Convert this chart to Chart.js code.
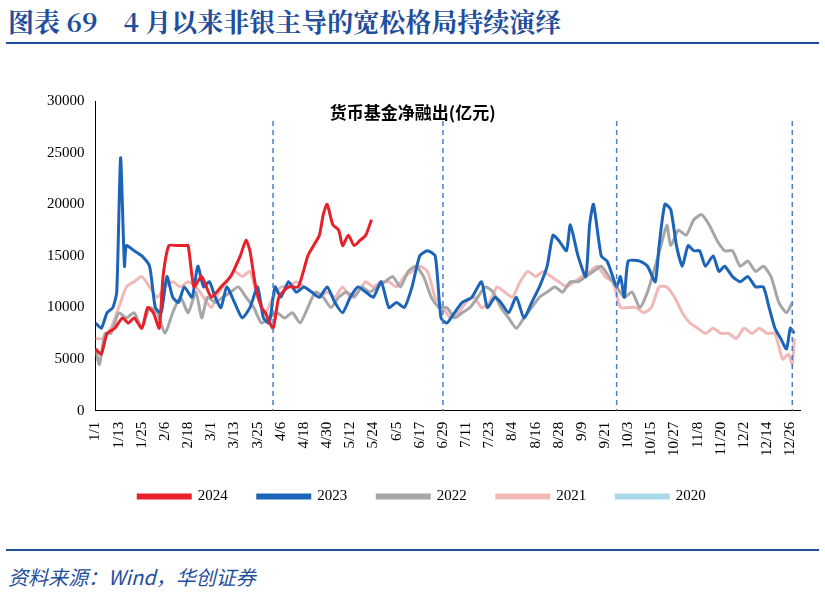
<!DOCTYPE html>
<html><head><meta charset="utf-8">
<script src="https://cdn.jsdelivr.net/npm/chart.js@4"></script>
<style>
body{margin:0;width:825px;height:599px;background:#fff;font-family:"Noto Sans CJK SC",sans-serif;position:relative;overflow:hidden}
#title{position:absolute;left:8px;top:2px;font-size:26px;font-weight:bold;color:#1f4e9c;font-family:"Noto Serif CJK SC","Noto Sans CJK SC",serif}
#line1{position:absolute;left:6px;right:6px;top:42px;border-top:2px solid #1f4e9c}
#line2{position:absolute;left:6px;right:6px;top:549px;border-top:2px solid #1f4e9c}
#src{position:absolute;left:8px;top:562px;font-size:20px;font-style:italic;color:#1f4e9c}
#wrap{position:absolute;left:0;top:84px;width:825px;height:430px}
</style></head><body>
<div id="title">图表 69　4 月以来非银主导的宽松格局持续演绎</div>
<div id="line1"></div>
<div id="wrap"><canvas id="chart"></canvas></div>
<div id="line2"></div>
<div id="src">资料来源：Wind，华创证券</div>
<script>
// x轴刻度（每12天）
const tickLabels = ["1/1","1/13","1/25","2/6","2/18","3/1","3/13","3/25","4/6","4/18","4/30","5/12","5/24","6/5","6/17","6/29","7/11","7/23","8/4","8/16","8/28","9/9","9/21","10/3","10/15","10/27","11/8","11/20","12/2","12/14","12/26"];
// 季末分隔线（日序）
const quarterDays = [92, 180, 270, 361];

const days2024 = [0,3,6,10,14,17,20,24,27,30,33,35,38,42,46,48,51,55,60,65,70,75,78,80,83,86,88,92,95,100,105,110,113,116,118,120,123,126,128,131,134,137,140,143];
const vals2024 = [6000,5500,7500,8000,9000,8500,9000,8000,10000,9500,8000,13000,16000,16000,16000,16000,12000,13000,11000,12000,13000,15000,16500,15500,12000,10000,9500,8000,11000,12000,12000,15000,16000,17000,19000,20000,18000,17500,16000,17000,16000,16500,17000,18500];

const days2023 = [0,3,6,9,11,13,15,16,20,24,28,31,34,37,40,43,46,50,53,56,59,62,65,68,72,76,80,84,87,90,93,96,100,104,108,112,116,120,124,128,132,136,140,144,148,152,156,160,164,168,172,176,179,182,186,190,195,200,203,207,210,214,218,222,226,230,234,237,240,244,246,250,254,256,258,262,265,268,270,272,274,276,282,286,290,292,295,298,301,304,307,310,313,316,320,323,326,330,334,338,342,346,349,352,355,358,360,362];
const vals2023 = [8500,8000,9500,10000,11500,24500,14000,16000,15500,15000,14000,10000,9500,13000,11000,10500,12000,11000,14000,12000,12500,11000,10000,12000,10500,9000,10000,12000,9000,8500,12000,11000,12500,11500,12000,11500,11000,12000,10500,9500,11000,12000,11500,11000,12500,10000,10500,10000,12000,15000,15500,15000,9000,8500,9500,10500,11000,12500,10000,11000,10500,9500,11000,9000,10500,12000,14000,17000,16500,15500,18000,15000,13000,18000,20000,15000,14500,13000,12000,13000,11000,14500,14500,14000,12500,16000,20000,19500,16000,14000,16000,15500,15500,14000,15000,13500,14000,13000,12500,13000,12000,12000,10000,8000,7000,6000,8000,7500];

const days2022 = [0,2,5,8,12,16,20,24,28,32,36,40,44,48,52,55,58,62,66,70,74,78,82,86,90,94,98,102,106,110,114,118,122,126,130,134,138,142,146,150,154,158,162,166,170,174,178,182,186,190,194,198,202,206,210,214,218,222,226,230,234,238,242,246,250,254,258,262,266,270,274,278,282,286,290,293,296,298,302,306,310,314,318,322,326,330,334,338,342,346,350,354,358,361];
const vals2022 = [6000,4500,7500,7500,9500,9000,9500,8000,10000,9500,7500,9500,11000,9500,11500,9000,11000,10500,11000,11500,12000,11000,10000,8500,9000,9500,9000,9500,8500,10000,11500,11000,10000,11000,11500,11000,12000,11500,12000,12500,13000,12000,13500,14000,13000,11000,10000,10000,9000,9500,10000,11000,12000,11500,10000,9000,8000,9000,10000,11000,11500,12000,11500,12500,12500,13000,13500,14000,13000,12000,11000,11500,10000,11500,14000,16000,18000,16000,17500,17000,18500,19000,18000,16500,15500,15500,14000,14500,13500,14000,13000,10500,9500,10500];

const days2021 = [0,4,8,12,16,20,24,28,32,36,40,44,48,52,56,60,64,68,72,76,80,84,88,92,96,100,104,108,112,116,120,124,128,132,136,140,144,148,152,156,160,164,168,172,176,180,184,188,192,196,200,204,208,212,216,220,224,228,232,236,240,244,248,252,256,260,264,268,272,276,280,284,288,292,296,300,304,308,312,316,320,324,328,332,336,340,344,348,352,356,359,361,362];
const vals2021 = [7000,7000,8000,10000,12000,12500,13000,12000,11000,12000,12500,12000,12500,12000,11000,10000,11500,12500,13500,13000,13500,11000,9500,11000,12000,12000,12500,12000,11500,11000,11500,11000,12000,11000,11500,12500,12000,12500,12500,12000,13000,13500,14000,13500,11000,10000,9000,9500,10500,11000,10000,10500,12000,11500,11000,12500,13500,13000,13500,13000,12500,12000,12500,13000,13500,14000,13000,12500,10000,10000,10000,9500,10000,12000,12000,11000,9500,8500,8000,7500,8000,7500,7500,7000,8000,7500,8000,7500,7500,5000,5500,4500,7000];

const pts = (d, v) => d.map((x, i) => ({x: x, y: v[i]}));

// 季末虚线
const quarterLines = {
  id: "quarterLines",
  afterDatasetsDraw(c) {
    const {ctx, chartArea, scales} = c;
    ctx.save();
    ctx.strokeStyle = "#4a7fc8";
    ctx.lineWidth = 1.5;
    ctx.setLineDash([5, 4]);
    quarterDays.forEach(d => {
      const x = scales.x.getPixelForValue(d);
      ctx.beginPath();
      ctx.moveTo(x, chartArea.top + 20);
      ctx.lineTo(x, chartArea.bottom);
      ctx.stroke();
    });
    ctx.restore();
  }
};

const ds = (label, data, color) => ({label, data, borderColor: color, backgroundColor: color, borderWidth: 3, pointRadius: 0, tension: 0.2, fill: false});

Chart.defaults.font.family = "'Times New Roman','Liberation Serif',serif";
Chart.defaults.color = "#000";

new Chart(document.getElementById("chart"), {
  type: "line",
  data: {
    datasets: [
      ds("2024", pts(days2024, vals2024), "#e8202a"),
      ds("2023", pts(days2023, vals2023), "#1c64b8"),
      ds("2022", pts(days2022, vals2022), "#a6a6a6"),
      ds("2021", pts(days2021, vals2021), "#f2b8b8"),
      ds("2020", [], "#a8d8ea")
    ]
  },
  options: {
    responsive: true,
    maintainAspectRatio: false,
    animation: false,
    layout: {padding: {left: 44, right: 25, top: 17}},
    scales: {
      x: {
        type: "linear", min: 0, max: 365,
        afterBuildTicks: ax => { ax.ticks = tickLabels.map((t, i) => ({value: i * 12})); },
        ticks: {callback: (v, i) => tickLabels[i], maxRotation: 90, minRotation: 90, autoSkip: false, font: {size: 15}},
        grid: {display: false, drawTicks: true},
        border: {color: "#000"}
      },
      y: {
        min: 0, max: 30000,
        ticks: {stepSize: 5000, font: {size: 15}, callback: v => String(v)},
        grid: {display: false},
        border: {color: "#000"}
      }
    },
    plugins: {
      legend: {
        position: "bottom",
        labels: {boxWidth: 52, boxHeight: 3, padding: 30, font: {size: 15}}
      }
    }
  },
  plugins: [quarterLines, {
    id: "innerTitle",
    afterDraw(c) {
      const {ctx, chartArea} = c;
      ctx.save();
      ctx.font = "bold 17px 'Noto Sans CJK SC'";
      ctx.fillStyle = "#000";
      ctx.textAlign = "center";
      ctx.fillText("货币基金净融出(亿元)", (chartArea.left + chartArea.right) / 2 - 35, chartArea.top + 12);
      ctx.restore();
    }
  }]
});
</script>
</body></html>
